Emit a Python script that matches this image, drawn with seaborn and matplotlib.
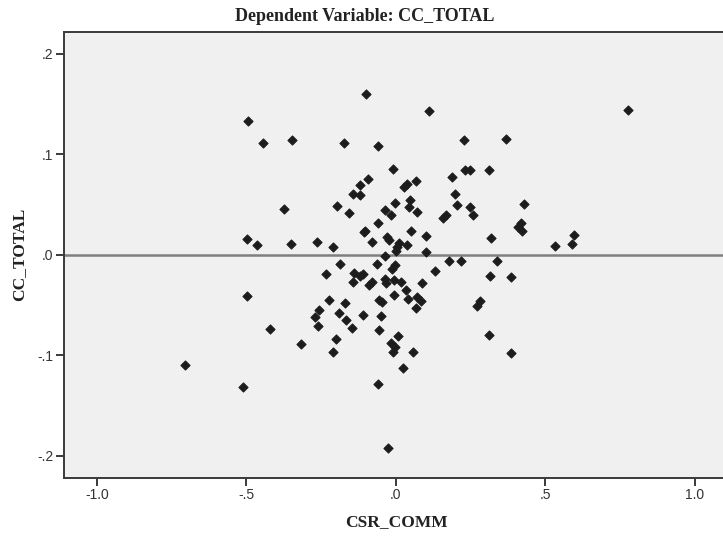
import matplotlib
matplotlib.use("Agg")
import matplotlib.pyplot as plt
import seaborn as sns
import pandas as pd

# Partial regression plot: residualised CSR_COMM vs residualised CC_TOTAL
csr_comm = [
    -0.493, -0.445, -0.346, -0.374, -0.101, 0.110, -0.173, -0.059, 0.227, -0.010,
    -0.094, -0.119, -0.143, -0.121, 0.027, 0.038, 0.069, 0.187, 0.230, 0.247,
    0.198, 0.046, -0.002, 0.204, -0.196, 0.043, -0.036, 0.776, 0.368, 0.312,
    0.249, 0.430, -0.498, -0.465, -0.351, -0.265, -0.498, -0.257, -0.272, -0.262,
    -0.421, -0.158, 0.072, -0.015, 0.168, 0.159, -0.061, -0.102, -0.107, 0.050,
    0.102, -0.029, -0.022, -0.079, -0.209, 0.012, 0.036, 0.005, 0.000, -0.037,
    0.102, -0.187, -0.064, -0.004, -0.013, 0.179, 0.218, 0.132, -0.234, -0.139,
    -0.111, -0.120, -0.142, -0.091, -0.079, -0.035, -0.033, -0.006, 0.017, 0.089,
    0.033, -0.007, 0.042, 0.072, 0.085, 0.068, -0.223, -0.171, -0.056, -0.046,
    -0.189, -0.167, -0.109, -0.051, -0.145, -0.055, 0.257, 0.418, 0.409, 0.422,
    0.318, 0.597, 0.590, 0.533, 0.339, 0.316, 0.384, 0.281, 0.273, -0.316,
    -0.704, -0.512, 0.008, -0.200, -0.210, -0.016, -0.004, -0.010, 0.057, 0.023,
    -0.060, -0.026, 0.313, 0.386,
]
cc_total = [
    0.133, 0.111, 0.114, 0.045, 0.160, 0.143, 0.111, 0.108, 0.114, 0.085,
    0.075, 0.069, 0.060, 0.059, 0.067, 0.070, 0.073, 0.077, 0.084, 0.084,
    0.060, 0.054, 0.051, 0.049, 0.048, 0.047, 0.044, 0.144, 0.115, 0.084,
    0.047, 0.050, 0.015, 0.009, 0.010, 0.012, -0.041, -0.055, -0.062, -0.071,
    -0.074, 0.041, 0.042, 0.039, 0.039, 0.036, 0.031, 0.023, 0.022, 0.023,
    0.018, 0.017, 0.014, 0.012, 0.007, 0.011, 0.009, 0.007, 0.003, -0.001,
    0.002, -0.009, -0.009, -0.010, -0.014, -0.006, -0.006, -0.016, -0.019, -0.018,
    -0.019, -0.021, -0.027, -0.030, -0.027, -0.024, -0.028, -0.025, -0.027, -0.028,
    -0.035, -0.040, -0.044, -0.042, -0.046, -0.053, -0.045, -0.048, -0.045, -0.047,
    -0.058, -0.065, -0.060, -0.061, -0.073, -0.075, 0.039, 0.031, 0.027, 0.023,
    0.016, 0.019, 0.010, 0.008, -0.006, -0.021, -0.022, -0.046, -0.051, -0.089,
    -0.110, -0.132, -0.081, -0.084, -0.097, -0.088, -0.092, -0.097, -0.097, -0.113,
    -0.129, -0.193, -0.080, -0.098,
]

x_ticks = [-1.0, -0.5, 0.0, 0.5, 1.0]
x_tick_labels = ["-1.0", "-.5", ".0", ".5", "1.0"]
y_ticks = [-0.2, -0.1, 0.0, 0.1, 0.2]
y_tick_labels = ["-.2", "-.1", ".0", ".1", ".2"]

df = pd.DataFrame({"CSR_COMM": csr_comm, "CC_TOTAL": cc_total})

sns.set_theme(style="ticks")
plt.rcParams["font.family"] = ["Liberation Sans", "DejaVu Sans"]

fig = plt.figure(figsize=(7.23, 5.38), dpi=100, facecolor="white")
ax = fig.add_axes([0.0885, 0.1115, 0.918, 0.829])
ax.set_facecolor("#f0f0f0")

# reference line at zero
ax.axhline(0.0, color="#7f7f7f", linewidth=1.8, zorder=1)

sns.scatterplot(
    data=df, x="CSR_COMM", y="CC_TOTAL", ax=ax,
    marker="D", s=22, color="#1c1c1c", edgecolor="#1c1c1c", linewidth=0.7,
    zorder=3, legend=False,
)

ax.set_xlim(-1.11, 1.11)
ax.set_ylim(-0.2224, 0.2214)
ax.set_xticks(x_ticks)
ax.set_xticklabels(x_tick_labels)
ax.set_yticks(y_ticks)
ax.set_yticklabels(y_tick_labels)

for side in ["left", "bottom", "top"]:
    ax.spines[side].set_color("#3a3a3a")
    ax.spines[side].set_linewidth(1.4)
ax.spines["right"].set_visible(False)

ax.tick_params(axis="both", direction="out", length=5.5, width=1.4,
               color="#3a3a3a", labelsize=10, labelcolor="#333333", pad=2)

ax.set_xlabel("")
ax.set_ylabel("")

serif_bold = dict(family=["Liberation Serif", "DejaVu Serif"], weight="bold",
                  color="#222222")
fig.text(0.5477, 0.030, "CSR_COMM", ha="center", va="center", size=12.5, **serif_bold)
fig.text(0.027, 0.528, "CC_TOTAL", ha="center", va="center", rotation=90,
         size=12.5, **serif_bold)
fig.text(0.505, 0.970, "Dependent Variable: CC_TOTAL", ha="center", va="center",
         size=13, **serif_bold)

fig.savefig("out.png", dpi=100, facecolor="white")
